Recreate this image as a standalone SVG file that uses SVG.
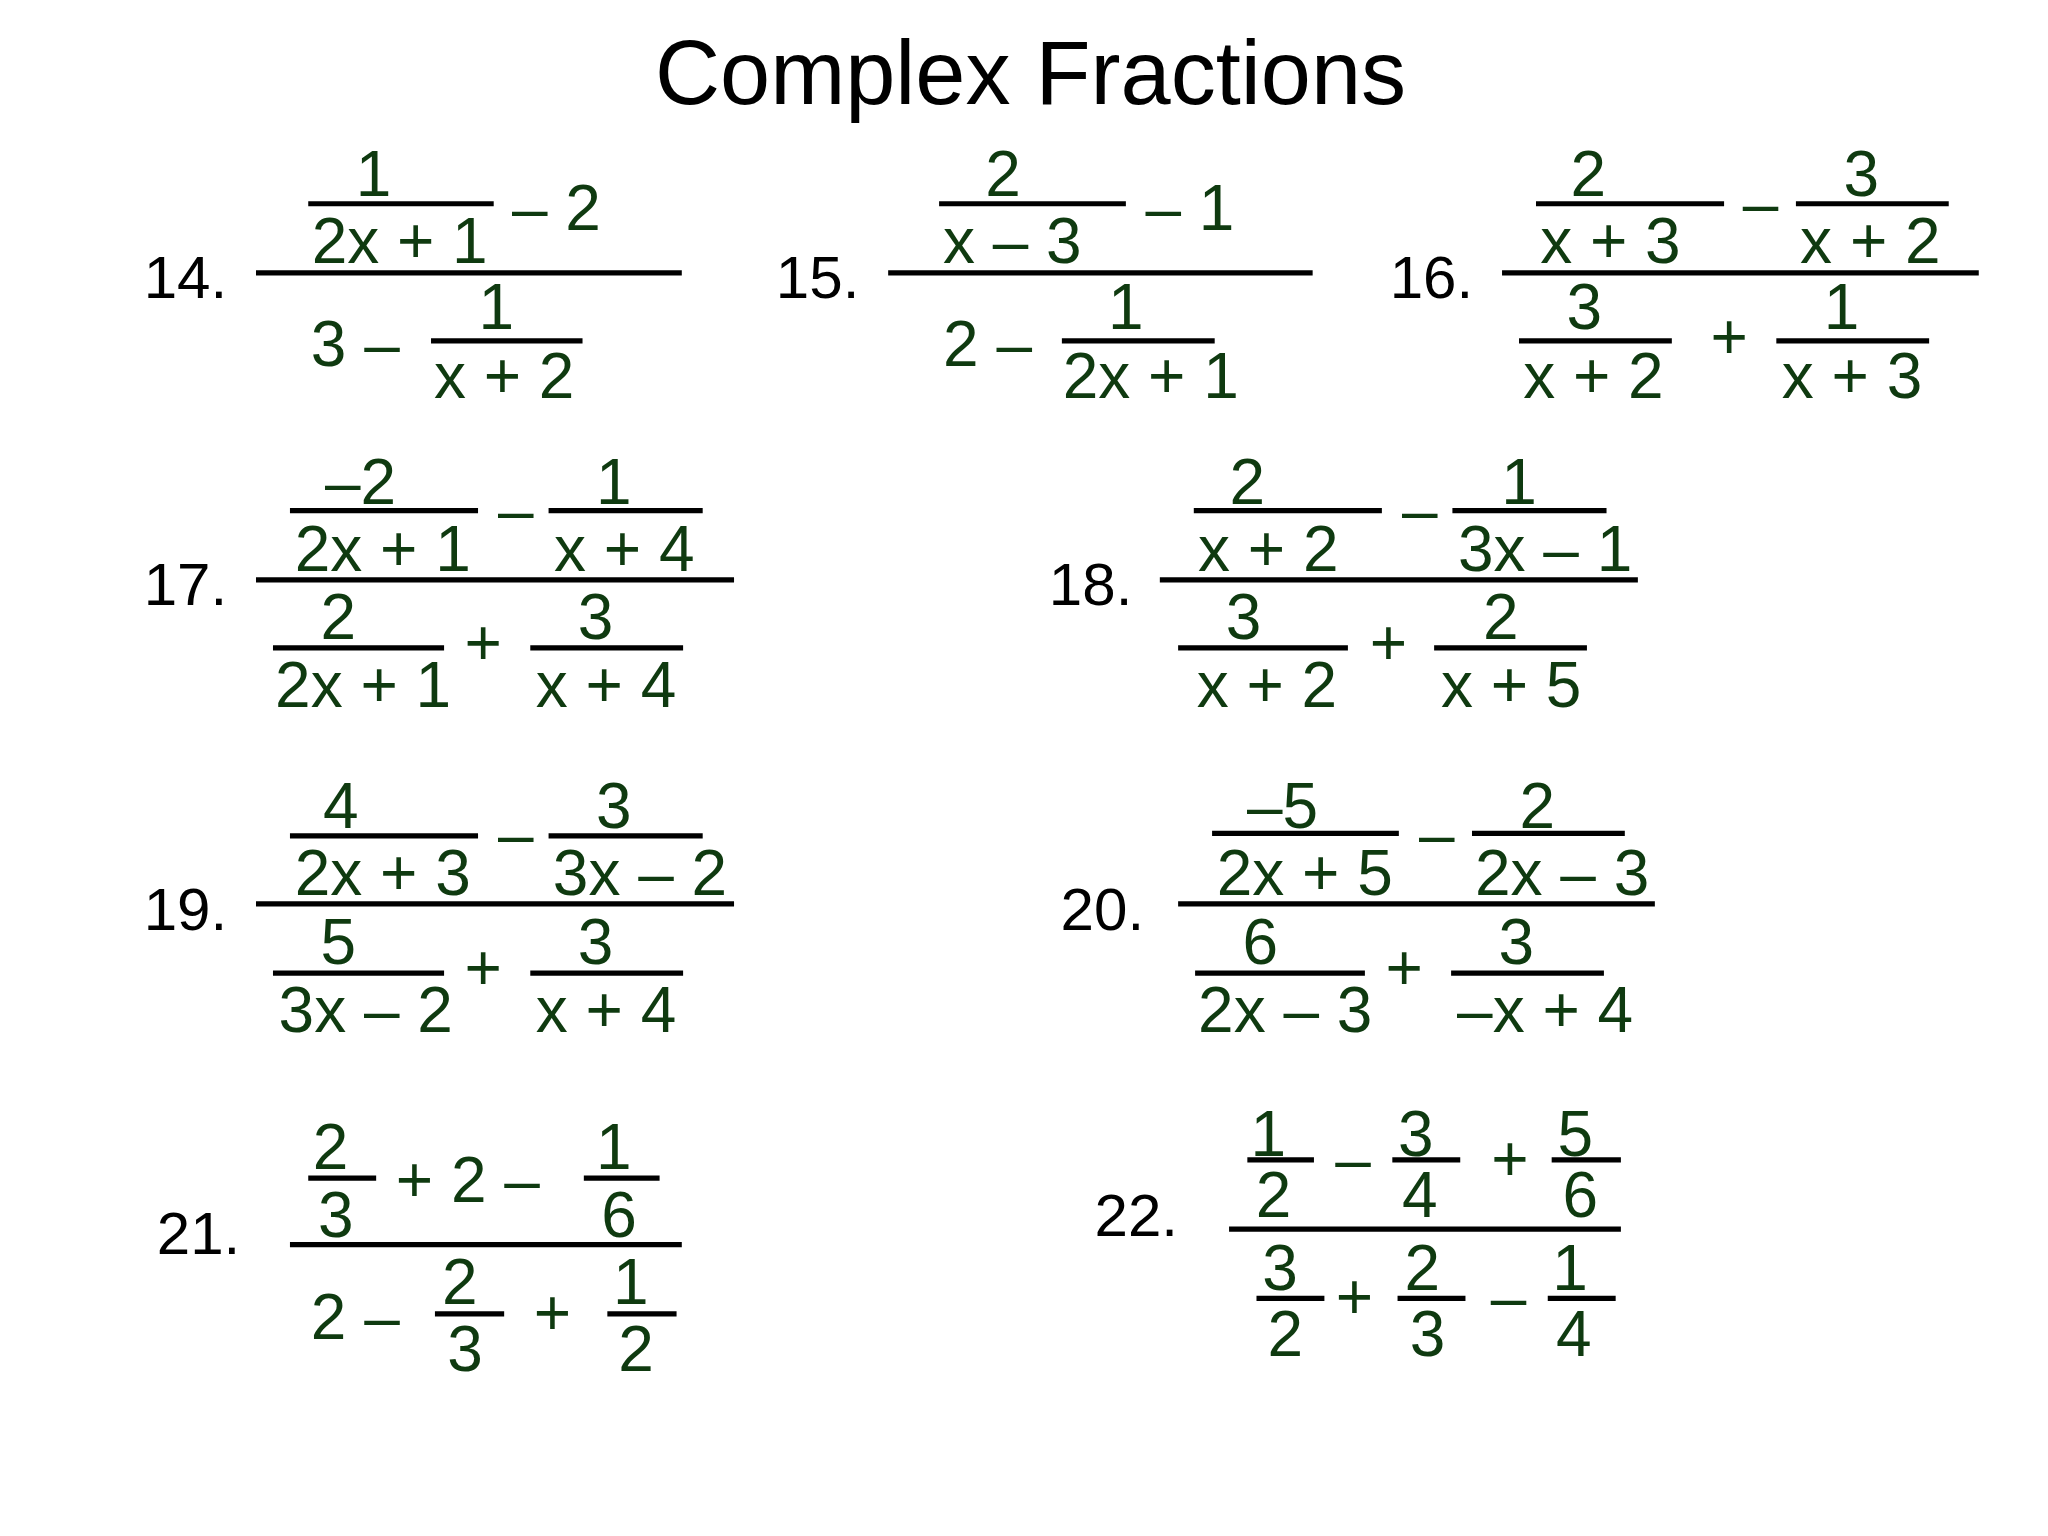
<svg xmlns="http://www.w3.org/2000/svg" width="2048" height="1536" viewBox="0 0 2048 1536">
<style>
text{font-family:"Liberation Sans",Arial,sans-serif;font-size:49px;fill:#0f3a10}
.c{text-anchor:middle}
.n{fill:#000;font-size:46px}
.t{fill:#000;font-size:69px;text-anchor:middle}
line{stroke:#000;stroke-width:4}
</style>
<rect width="2048" height="1536" fill="#fff"/>
<g transform="scale(1.30612)">
<text class="t" x="789" y="80">Complex Fractions</text>
<g id="p14">
<text class="n" x="110" y="228">14.</text>
<line x1="196" y1="209" x2="522" y2="209"/>
<text class="c" x="286" y="150">1</text><line x1="236" y1="156" x2="378" y2="156"/><text class="c" x="306" y="201">2x + 1</text>
<text x="392" y="176">– 2</text>
<text x="238" y="280">3 –</text>
<text class="c" x="380" y="252">1</text><line x1="330" y1="261" x2="446" y2="261"/><text class="c" x="386" y="305">x + 2</text>
</g>
<g id="p15">
<text class="n" x="594" y="228">15.</text>
<line x1="680" y1="209" x2="1005" y2="209"/>
<text class="c" x="768" y="150">2</text><line x1="719" y1="156" x2="862" y2="156"/><text class="c" x="775" y="201">x – 3</text>
<text x="877" y="176">– 1</text>
<text x="722" y="280">2 –</text>
<text class="c" x="862" y="252">1</text><line x1="813" y1="261" x2="930" y2="261"/><text class="c" x="881" y="305">2x + 1</text>
</g>
<g id="p16">
<text class="n" x="1064" y="228">16.</text>
<line x1="1150" y1="209" x2="1515" y2="209"/>
<text class="c" x="1216" y="150">2</text><line x1="1176" y1="156" x2="1320" y2="156"/><text class="c" x="1233" y="201">x + 3</text>
<text class="c" x="1348" y="172">–</text>
<text class="c" x="1425" y="150">3</text><line x1="1375" y1="156" x2="1492" y2="156"/><text class="c" x="1432" y="201">x + 2</text>
<text class="c" x="1213" y="252">3</text><line x1="1163" y1="261" x2="1280" y2="261"/><text class="c" x="1220" y="305">x + 2</text>
<text class="c" x="1324" y="275">+</text>
<text class="c" x="1410" y="252">1</text><line x1="1360" y1="261" x2="1477" y2="261"/><text class="c" x="1418" y="305">x + 3</text>
</g>
<g id="p17">
<text class="n" x="110" y="463">17.</text>
<line x1="196" y1="444" x2="562" y2="444"/>
<text class="c" x="276" y="386">–2</text><line x1="222" y1="391" x2="366" y2="391"/><text class="c" x="293" y="437">2x + 1</text>
<text class="c" x="395" y="407">–</text>
<text class="c" x="470" y="386">1</text><line x1="420" y1="391" x2="538" y2="391"/><text class="c" x="478" y="437">x + 4</text>
<text class="c" x="259" y="489">2</text><line x1="209" y1="496" x2="340" y2="496"/><text class="c" x="278" y="541">2x + 1</text>
<text class="c" x="370" y="509">+</text>
<text class="c" x="456" y="489">3</text><line x1="406" y1="496" x2="523" y2="496"/><text class="c" x="464" y="541">x + 4</text>
</g>
<g id="p18">
<text class="n" x="803" y="463">18.</text>
<line x1="888" y1="444" x2="1254" y2="444"/>
<text class="c" x="955" y="386">2</text><line x1="914" y1="391" x2="1058" y2="391"/><text class="c" x="971" y="437">x + 2</text>
<text class="c" x="1087" y="407">–</text>
<text class="c" x="1163" y="386">1</text><line x1="1112" y1="391" x2="1230" y2="391"/><text class="c" x="1183" y="437">3x – 1</text>
<text class="c" x="952" y="489">3</text><line x1="902" y1="496" x2="1032" y2="496"/><text class="c" x="970" y="541">x + 2</text>
<text class="c" x="1063" y="509">+</text>
<text class="c" x="1149" y="489">2</text><line x1="1098" y1="496" x2="1215" y2="496"/><text class="c" x="1157" y="541">x + 5</text>
</g>
<g id="p19">
<text class="n" x="110" y="712">19.</text>
<line x1="196" y1="692" x2="562" y2="692"/>
<text class="c" x="261" y="634">4</text><line x1="222" y1="640" x2="366" y2="640"/><text class="c" x="293" y="685">2x + 3</text>
<text class="c" x="395" y="655">–</text>
<text class="c" x="470" y="634">3</text><line x1="420" y1="640" x2="538" y2="640"/><text class="c" x="490" y="685">3x – 2</text>
<text class="c" x="259" y="738">5</text><line x1="209" y1="745" x2="340" y2="745"/><text class="c" x="280" y="790">3x – 2</text>
<text class="c" x="370" y="758">+</text>
<text class="c" x="456" y="738">3</text><line x1="406" y1="745" x2="523" y2="745"/><text class="c" x="464" y="790">x + 4</text>
</g>
<g id="p20">
<text class="n" x="812" y="712">20.</text>
<line x1="902" y1="692" x2="1267" y2="692"/>
<text class="c" x="982" y="634">–5</text><line x1="928" y1="638" x2="1071" y2="638"/><text class="c" x="999" y="685">2x + 5</text>
<text class="c" x="1100" y="655">–</text>
<text class="c" x="1177" y="634">2</text><line x1="1127" y1="638" x2="1244" y2="638"/><text class="c" x="1196" y="685">2x – 3</text>
<text class="c" x="965" y="738">6</text><line x1="915" y1="745" x2="1045" y2="745"/><text class="c" x="984" y="790">2x – 3</text>
<text class="c" x="1075" y="758">+</text>
<text class="c" x="1161" y="738">3</text><line x1="1111" y1="745" x2="1228" y2="745"/><text class="c" x="1183" y="790">–x + 4</text>
</g>
<g id="p21">
<text class="n" x="120" y="960">21.</text>
<line x1="222" y1="953" x2="522" y2="953"/>
<text class="c" x="253" y="895">2</text><line x1="236" y1="902" x2="288" y2="902"/><text class="c" x="257" y="947">3</text>
<text x="303" y="920">+ 2 –</text>
<text class="c" x="470" y="895">1</text><line x1="447" y1="902" x2="505" y2="902"/><text class="c" x="474" y="947">6</text>
<text x="238" y="1025">2 –</text>
<text class="c" x="352" y="998">2</text><line x1="333" y1="1006" x2="386" y2="1006"/><text class="c" x="356" y="1050">3</text>
<text class="c" x="423" y="1022">+</text>
<text class="c" x="483" y="998">1</text><line x1="465" y1="1006" x2="518" y2="1006"/><text class="c" x="487" y="1050">2</text>
</g>
<g id="p22">
<text class="n" x="838" y="946">22.</text>
<line x1="941" y1="941" x2="1241" y2="941"/>
<text class="c" x="971" y="885">1</text><line x1="955" y1="888" x2="1006" y2="888"/><text class="c" x="975" y="932">2</text>
<text class="c" x="1036" y="904">–</text>
<text class="c" x="1084" y="885">3</text><line x1="1066" y1="888" x2="1118" y2="888"/><text class="c" x="1087" y="932">4</text>
<text class="c" x="1156" y="904">+</text>
<text class="c" x="1206" y="885">5</text><line x1="1188" y1="888" x2="1241" y2="888"/><text class="c" x="1210" y="932">6</text>
<text class="c" x="980" y="988">3</text><line x1="962" y1="994" x2="1014" y2="994"/><text class="c" x="984" y="1038">2</text>
<text class="c" x="1037" y="1010">+</text>
<text class="c" x="1089" y="988">2</text><line x1="1070" y1="994" x2="1122" y2="994"/><text class="c" x="1093" y="1038">3</text>
<text class="c" x="1155" y="1010">–</text>
<text class="c" x="1202" y="988">1</text><line x1="1185" y1="994" x2="1237" y2="994"/><text class="c" x="1205" y="1038">4</text>
</g>
</g>
</svg>
